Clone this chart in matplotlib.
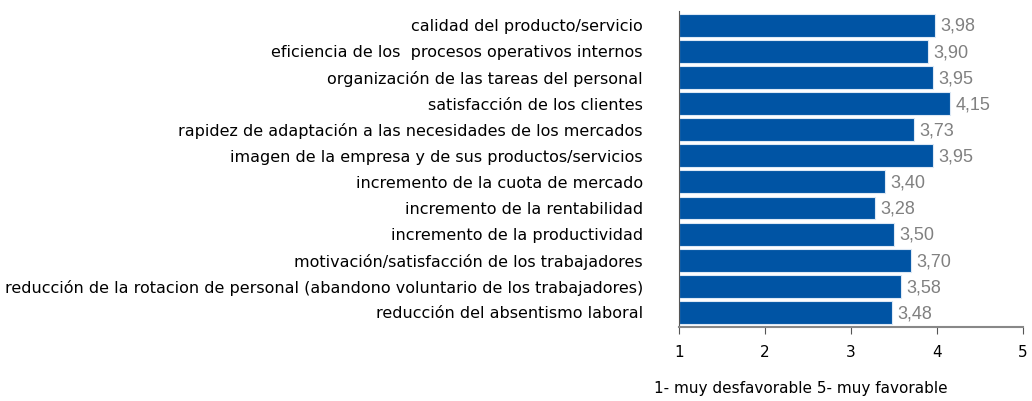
import matplotlib
matplotlib.use("Agg")
import matplotlib.pyplot as plt

categories = [
    "calidad del producto/servicio",
    "eficiencia de los  procesos operativos internos",
    "organización de las tareas del personal",
    "satisfacción de los clientes",
    "rapidez de adaptación a las necesidades de los mercados",
    "imagen de la empresa y de sus productos/servicios",
    "incremento de la cuota de mercado",
    "incremento de la rentabilidad",
    "incremento de la productividad",
    "motivación/satisfacción de los trabajadores",
    "reducción de la rotacion de personal (abandono voluntario de los trabajadores)",
    "reducción del absentismo laboral",
]
values = [3.98, 3.90, 3.95, 4.15, 3.73, 3.95, 3.40, 3.28, 3.50, 3.70, 3.58, 3.48]
xticks = [1, 2, 3, 4, 5]

plt.rcParams['font.family'] = ['DejaVu Sans']

fig = plt.figure(figsize=(10.32, 4.01), dpi=100)
ax = fig.add_axes([0.658, 0.185, 0.333, 0.788])

pos = list(range(len(categories)))
widths = [v - 1 for v in values]
ax.barh(pos, widths, left=1, height=0.88, color='#0054a4',
        edgecolor='#dce8f5', linewidth=0.8)

# value labels, decimal comma
for p, v in zip(pos, values):
    ax.text(v + 0.065, p + 0.05, "{:.2f}".format(v).replace('.', ','),
            va='center', ha='left', fontsize=13, color='#808080',
            family=['Liberation Sans'], fontweight='medium')

ax.set_xlim(1, 5)
ax.set_ylim(len(categories) - 0.45, -0.55)
ax.set_xticks(xticks)
ax.set_xticklabels([str(t) for t in xticks], fontsize=11)
ax.set_yticks(pos)
ax.set_yticklabels(categories, fontsize=11.5)

ax.spines['top'].set_visible(False)
ax.spines['right'].set_visible(False)
ax.spines['left'].set_color('#555555')
ax.spines['bottom'].set_color('#888888')
ax.spines['bottom'].set_linewidth(1.5)
ax.tick_params(axis='y', length=0, pad=26)
ax.tick_params(axis='x', direction='out', length=5, color='#555555', pad=8)

fig.text(0.776, 0.032, "1- muy desfavorable 5- muy favorable",
         ha='center', va='center', fontsize=11)

fig.savefig("out.png", dpi=100)
